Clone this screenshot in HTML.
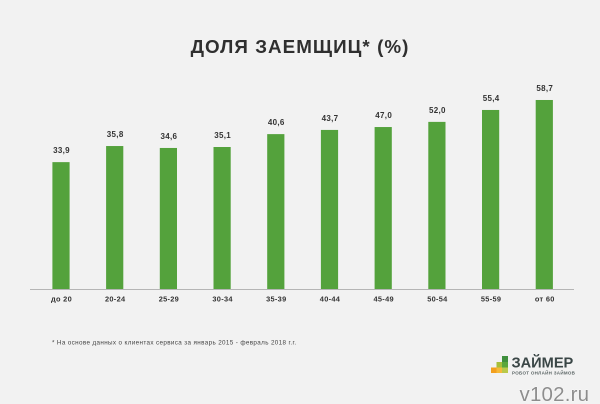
<!DOCTYPE html>
<html lang="ru">
<head>
<meta charset="utf-8">
<title>Доля заемщиц</title>
<style>
html,body{margin:0;padding:0;background:#f2f2f2}
#chart{display:block;width:600px;height:404px;font-family:"Liberation Sans",sans-serif}
</style>
</head>
<body>
<svg id="chart" xmlns="http://www.w3.org/2000/svg" width="600" height="404" viewBox="0 0 600 404">
  <rect width="600" height="404" fill="#f2f2f2"/>
  <text x="300" y="53" text-anchor="middle" font-size="18.8" font-weight="700" letter-spacing="1.05" fill="#2f2f2f">ДОЛЯ ЗАЕМЩИЦ* (%)</text>
  <g id="bars"></g>
  <line x1="30" y1="289.5" x2="574" y2="289.5" stroke="#b5b5b5" stroke-width="1"/>
  <g id="labels"></g>
  <text x="52" y="344.5" font-size="6.3" letter-spacing="0.36" fill="#444">* На основе данных о клиентах сервиса за январь 2015 - февраль 2018 г.г.</text>
  <g>
    <rect x="502" y="356" width="6" height="6" fill="#3f8f3d"/>
    <rect x="496.5" y="362" width="5.5" height="5.5" fill="#a8bf3a"/>
    <rect x="502" y="362" width="6" height="5.5" fill="#5aa63c"/>
    <rect x="491" y="367.5" width="5.5" height="5.5" fill="#f2a01e"/>
    <rect x="496.5" y="367.5" width="5.5" height="5.5" fill="#f5b93a"/>
    <rect x="502" y="367.5" width="6" height="5.5" fill="#b9c94a"/>
    <text x="511.5" y="367.5" font-size="14.6" font-weight="700" letter-spacing="0" fill="#3a4646">ЗАЙМЕР</text>
    <text x="512" y="374.5" font-size="4.5" font-weight="700" letter-spacing="0.28" fill="#5a6464">РОБОТ ОНЛАЙН ЗАЙМОВ</text>
  </g>
  <text x="519.5" y="401" font-size="20.5" fill="#8d8d8d" stroke="#ffffff" stroke-width="0.6" paint-order="stroke" letter-spacing="0.2">v102.ru</text>
</svg>
<script>
// Age groups on the x axis
const categories = ["до 20","20-24","25-29","30-34","35-39","40-44","45-49","50-54","55-59","от 60"];
// Values printed above each bar
const printedValues = ["33,9","35,8","34,6","35,1","40,6","43,7","47,0","52,0","55,4","58,7"];
// Bar lengths as drawn in the picture (the drawn bars are not proportional to the printed figures)
const barValues = [39.4,44.4,43.8,44.1,48.1,49.4,50.3,51.9,55.6,58.7];

const svgNS = "http://www.w3.org/2000/svg";
const baselineY = 289;
const yUnit = 3.22;
const firstCenter = 61;
const step = 53.7;
const barWidth = 17.2;
function xScale(i){ return firstCenter + i * step; }
function yScale(v){ return baselineY - v * yUnit; }

const barsGroup = document.getElementById("bars");
const labelsGroup = document.getElementById("labels");

categories.forEach(function(cat, i){
  const top = yScale(barValues[i]);

  const bar = document.createElementNS(svgNS, "rect");
  
  
  bar.setAttribute("x", xScale(i) - barWidth / 2);
  bar.setAttribute("y", top);
  bar.setAttribute("width", barWidth);
  bar.setAttribute("height", baselineY - top);
  bar.setAttribute("fill", "#54a23c");
  barsGroup.appendChild(bar);

  const val = document.createElementNS(svgNS, "text");
  
  
  val.setAttribute("x", xScale(i) + 0.5);
  val.setAttribute("y", top - 9);
  val.setAttribute("text-anchor", "middle");
  val.setAttribute("font-size", "8");
  val.setAttribute("font-weight", "700");
  val.setAttribute("letter-spacing", "0.3");
  val.setAttribute("fill", "#333");
  val.textContent = printedValues[i];
  labelsGroup.appendChild(val);

  const tick = document.createElementNS(svgNS, "text");
  
  
  tick.setAttribute("x", xScale(i) + 0.5);
  tick.setAttribute("y", 301.5);
  tick.setAttribute("text-anchor", "middle");
  tick.setAttribute("font-size", "7.4");
  tick.setAttribute("font-weight", "700");
  tick.setAttribute("letter-spacing", "0.3");
  tick.setAttribute("fill", "#333");
  tick.textContent = cat;
  labelsGroup.appendChild(tick);
});
</script>
</body>
</html>
